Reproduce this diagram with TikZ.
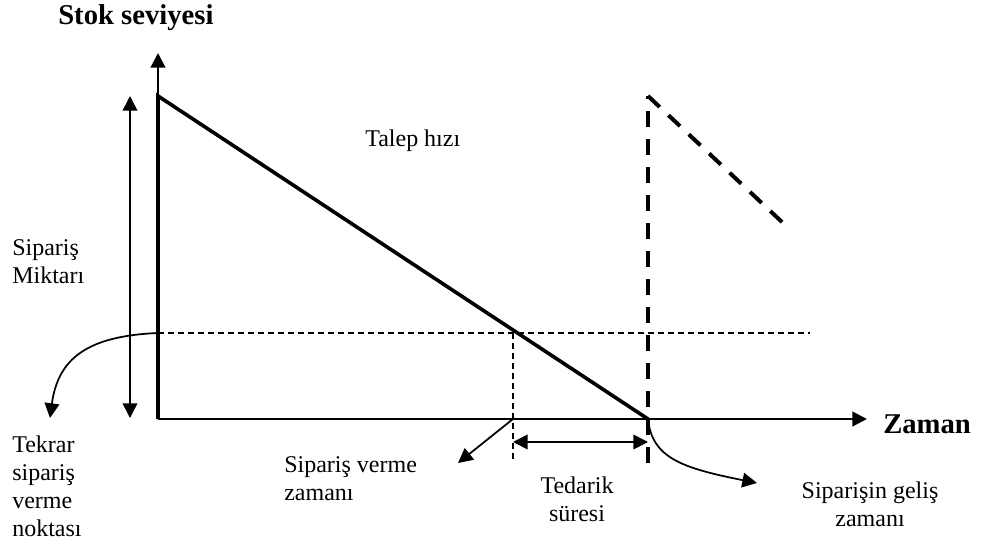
\documentclass[tikz,border=0pt]{standalone}
\usepackage{fontspec}
\setmainfont{Liberation Serif}
\usetikzlibrary{arrows.meta}
\begin{document}
\begin{tikzpicture}[x=0.75pt,y=-0.75pt,
  tip/.style={-{Triangle[length=11pt,width=11pt]}},
  dtip/.style={{Triangle[length=11pt,width=11pt]}-{Triangle[length=11pt,width=11pt]}},
  axis/.style={line width=1.6pt,tip},
  stock/.style={line width=2.7pt,line join=miter},
  thindash/.style={line width=1.2pt,dash pattern=on 4.5pt off 3pt},
  thickdash/.style={line width=3pt,dash pattern=on 12pt off 9pt},
  pointer/.style={line width=1.3pt,tip},
  lbl/.style={inner sep=0pt,font=\fontsize{18}{21}\selectfont},
  title/.style={inner sep=0pt,font=\fontsize{21.5}{25}\selectfont\bfseries}]
\useasboundingbox (0,0) rectangle (984,545);
% coordinates
\coordinate (O) at (158,419);
\coordinate (Ytop) at (158,53);
\coordinate (Xend) at (867,419);
\coordinate (Q) at (158,96);
\coordinate (Z) at (648,419);
\coordinate (Ztop) at (648,96);
\coordinate (Zbot) at (648,463);
\coordinate (R) at (158,333);
\coordinate (Rend) at (810,333);
\coordinate (P) at (513,333);
\coordinate (Pax) at (513,419);
\coordinate (Pbot) at (513,463);
\coordinate (N) at (783,223);
\coordinate (Qa) at (130,96);
\coordinate (Qb) at (130,418);
\coordinate (La) at (513,442);
\coordinate (Lb) at (648,442);
\coordinate (T1) at (50,418);
\coordinate (T2) at (458,463);
\coordinate (T3) at (757,483);
% axes
\draw[axis] (O) -- (Ytop);
\draw[axis] (O) -- (Xend);
% reorder and lead time lines
\draw[thindash] (R) -- (Rend);
\draw[thindash] (P) -- (Pbot);
\draw[thickdash] (Zbot) -- (Ztop);
\draw[thickdash] (Ztop) -- (N);
% stock line
\draw[stock] (O) -- (Q) -- (Z);
% double arrows
\draw[line width=1.2pt,dtip] (Qa) -- (Qb);
\draw[line width=1.3pt,dtip] (La) -- (Lb);
% pointers
\draw[pointer] (R) .. controls (88,336) and (58,358) .. (T1);
\draw[pointer] (Pax) -- (T2);
\draw[pointer] (Z) .. controls (652,458) and (682,468) .. (T3);
% texts
\node[title,anchor=base west] (ts) at (58,25) {Stok seviyesi};
\node[title,anchor=base west] (tz) at (883,433) {Zaman};
\node[lbl,anchor=base west] (th) at (365,147) {Talep hızı};
\node[lbl,anchor=north west,align=left] (tm) at (12,239.5) {Sipariş\\Miktarı};
\node[lbl,anchor=north west,align=left] (tt) at (12,435.5) {Tekrar\\sipariş\\verme\\noktası};
\node[lbl,anchor=north west,align=left] (tv) at (284,456.5) {Sipariş verme\\zamanı};
\node[lbl,anchor=north,align=center] (td) at (577,476.5) {Tedarik\\süresi};
\node[lbl,anchor=north,align=center] (tg) at (870,481.5) {Siparişin geliş\\zamanı};
\end{tikzpicture}
\end{document}
